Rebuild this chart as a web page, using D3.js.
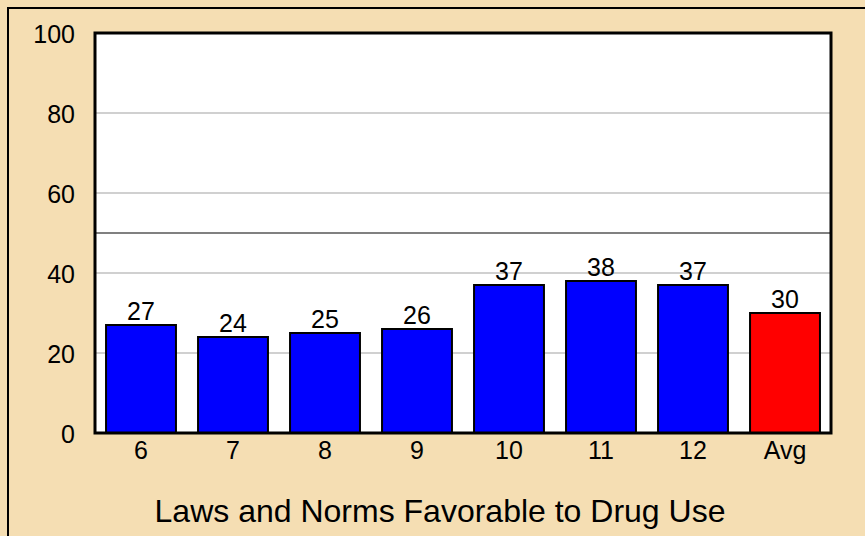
<!DOCTYPE html>
<meta charset="utf-8">
<head>
<script src="https://d3js.org/d3.v7.min.js"></script>
<style>
  body { margin: 0; background: #fff; }
  svg text { font-family: "Liberation Sans", Arial, sans-serif; fill: #000; }
</style>
</head>
<body>
<div id="chart"></div>
<script>
// chart data
var grades = ["6", "7", "8", "9", "10", "11", "12", "Avg"];
var percents = [27, 24, 25, 26, 37, 38, 37, 30];
var yTicks = [0, 20, 40, 60, 80, 100];
var gridLines = [20, 40, 60, 80];
var cutLine = 50;
var chartTitle = "Laws and Norms Favorable to Drug Use";

var W = 865, H = 536;
var plot = { left: 95, top: 33, right: 831, bottom: 433 };

var svg = d3.select("#chart").append("svg")
  .attr("width", W).attr("height", H);

// tan background + the top/left frame line
svg.append("rect").attr("x", 0).attr("y", 0).attr("width", W).attr("height", H)
  .attr("fill", "#F5DEB3");
svg.append("path").attr("d", "M8," + H + "V8H" + W)
  .attr("fill", "none").attr("stroke", "#000").attr("stroke-width", 2);

var x = d3.scaleBand().domain(grades)
  .range([plot.left, plot.right])
  .paddingInner(0.24).paddingOuter(0.12);
var y = d3.scaleLinear().domain([0, 100]).range([plot.bottom, plot.top]);

// white plot area
svg.append("rect")
  .attr("x", plot.left).attr("y", plot.top)
  .attr("width", plot.right - plot.left).attr("height", plot.bottom - plot.top)
  .attr("fill", "#fff");

// grid
svg.selectAll(".grid").data(gridLines).enter().append("line")
  .attr("class", "grid")
  .attr("x1", plot.left).attr("x2", plot.right)
  .attr("y1", d => y(d)).attr("y2", d => y(d))
  .attr("stroke", "#d0d0d0").attr("stroke-width", 2);
svg.append("line")
  .attr("x1", plot.left).attr("x2", plot.right)
  .attr("y1", y(cutLine)).attr("y2", y(cutLine))
  .attr("stroke", "#808080").attr("stroke-width", 2);

// bars
svg.selectAll(".bar").data(percents).enter().append("rect")
  .attr("class", "bar")
  .attr("x", (d, i) => x(grades[i]))
  .attr("y", d => y(d))
  .attr("width", x.bandwidth())
  .attr("height", d => y(0) - y(d))
  .attr("fill", (d, i) => grades[i] === "Avg" ? "#FF0000" : "#0000FF")
  .attr("stroke", "#000").attr("stroke-width", 2);

// value labels
svg.selectAll(".val").data(percents).enter().append("text")
  .attr("class", "val")
  .attr("x", (d, i) => x(grades[i]) + x.bandwidth() / 2)
  .attr("y", d => y(d) - 5)
  .attr("text-anchor", "middle")
  .style("font-size", "25px")
  .text(d => d);

// plot frame
svg.append("rect")
  .attr("x", plot.left).attr("y", plot.top)
  .attr("width", plot.right - plot.left).attr("height", plot.bottom - plot.top)
  .attr("fill", "none").attr("stroke", "#000").attr("stroke-width", 3);

// axes, drawn with d3 axis but styled like the original
var yAxis = svg.append("g")
  .attr("transform", "translate(" + plot.left + ",0)")
  .call(d3.axisLeft(y).tickValues(yTicks).tickSize(0).tickPadding(20));
yAxis.select(".domain").remove();
yAxis.attr("font-size", null).attr("font-family", null);
yAxis.selectAll("text").style("font-size", "25px").attr("dy", "0.36em");

var xAxis = svg.append("g")
  .attr("transform", "translate(0," + plot.bottom + ")")
  .call(d3.axisBottom(x).tickSize(0).tickPadding(8));
xAxis.select(".domain").remove();
xAxis.attr("font-size", null).attr("font-family", null);
xAxis.selectAll("text").style("font-size", "25px");

svg.append("text")
  .attr("x", 440)
  .attr("y", 522)
  .attr("text-anchor", "middle")
  .style("font-size", "32px")
  .text(chartTitle);
</script>
</body>
